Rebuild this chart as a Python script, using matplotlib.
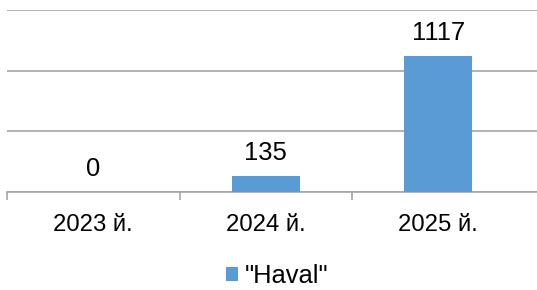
import numpy as np
import matplotlib.pyplot as plt

plt.rcParams['font.family'] = ['Liberation Sans', 'DejaVu Sans']

years = ['2023 й.', '2024 й.', '2025 й.']
haval = [0, 135, 1117]
series_name = '"Haval"'

fig = plt.figure(figsize=(5.37, 2.90), dpi=100)
# axes run past the right edge, like in the cropped original
ax = fig.add_axes([7/537, 98/290, 530/537, 182/290])

x = np.arange(len(years))
bars = ax.bar(x, haval, width=0.395, color='#5B9BD5', label=series_name, zorder=3)

for xi, v in zip(x, haval):
    ax.annotate(str(v), (xi, v), xytext=(0, 11.5), textcoords='offset points',
                ha='center', va='baseline', fontsize=18.4)

ax.set_xlim(-0.5, -0.5 + 530/172.5)
ax.set_ylim(0, 1500)
ax.set_yticks([0, 500, 1000, 1500])
ax.yaxis.grid(True, color='#A6A6A6', linewidth=1.2, zorder=0)
ax.tick_params(axis='y', left=False, labelleft=False)

ax.set_xticks(x)
ax.set_xticklabels(years, fontsize=17.2)
ax.tick_params(axis='x', which='major', length=0, pad=16)
ax.set_xticks([-0.5, 0.5, 1.5], minor=True)
ax.tick_params(axis='x', which='minor', length=6, width=1.2, color='#A6A6A6')

for s in ['top', 'right', 'left']:
    ax.spines[s].set_visible(False)
ax.spines['bottom'].set_color('#A6A6A6')
ax.spines['bottom'].set_linewidth(1.2)

fig.legend(loc='center', bbox_to_anchor=(0.516, 0.049), frameon=False, fontsize=18.4,
           handlelength=0.49, handleheight=0.49, handletextpad=0.27, borderpad=0)

fig.savefig('out.png', dpi=100)
